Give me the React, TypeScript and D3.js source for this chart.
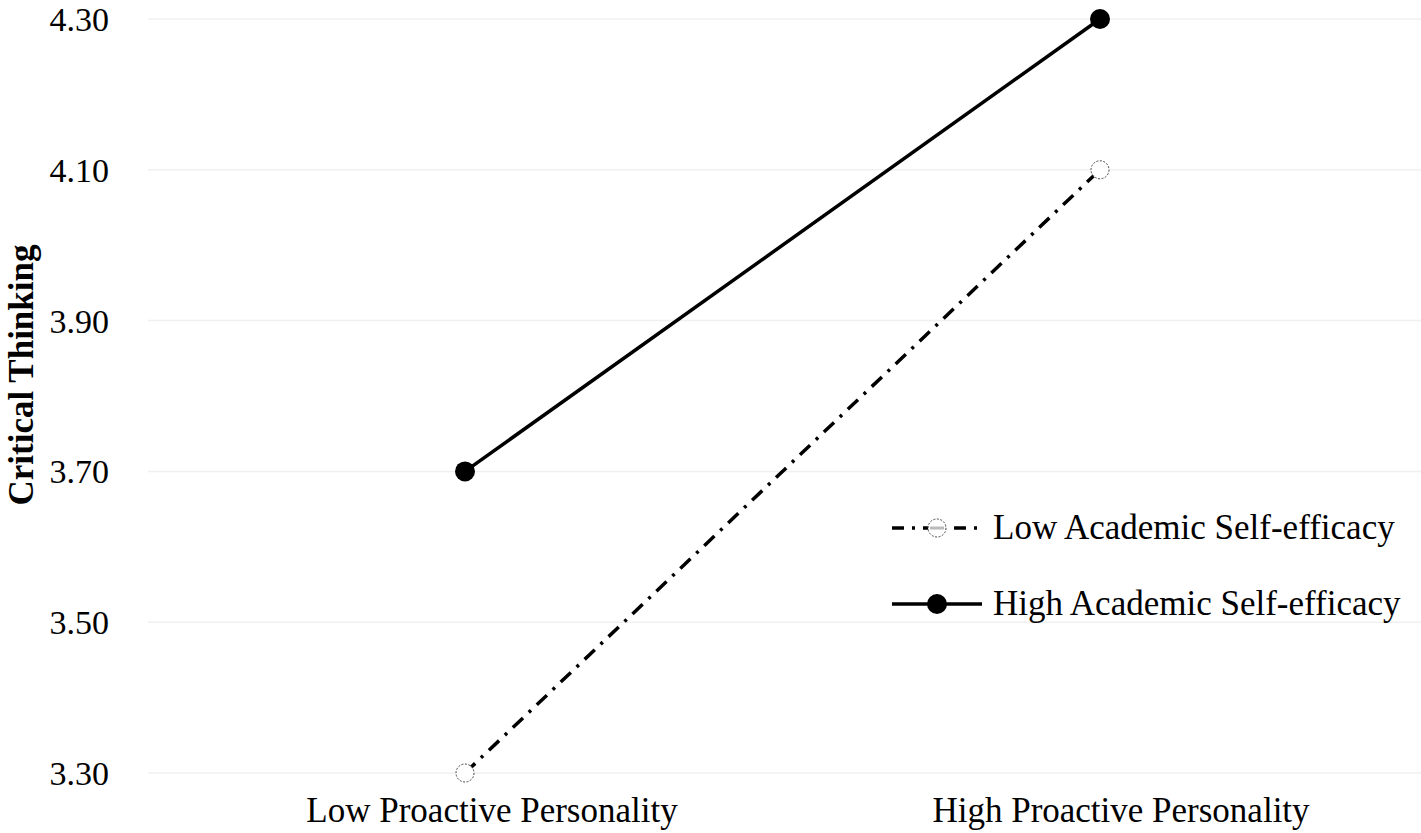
import React, { useEffect, useRef } from 'react';
import * as d3 from 'd3';

const categories = ['Low Proactive Personality', 'High Proactive Personality'];
const seriesNames = ['Low Academic Self-efficacy', 'High Academic Self-efficacy'];
const lowEfficacy = [3.3, 4.1];
const highEfficacy = [3.7, 4.3];
const yTicks = [3.3, 3.5, 3.7, 3.9, 4.1, 4.3];

const W = 1421;
const H = 833;

const App: React.FC = () => {
  const svgRef = useRef<SVGSVGElement>(null);

  useEffect(() => {
    if (!svgRef.current) return;
    const svg = d3.select(svgRef.current);
    svg.selectAll('*').remove();

    const font = '"Liberation Serif", "Times New Roman", serif';
    const y = d3.scaleLinear().domain([3.3, 4.3]).range([773, 19]);
    const x = d3.scalePoint<string>().domain(categories).range([465, 1100]);
    // category labels sit slightly right of the points in the original
    const xLabel = d3.scalePoint<string>().domain(categories).range([492, 1121]);

    // gridlines
    svg.append('g')
      .selectAll('line')
      .data(yTicks)
      .enter()
      .append('line')
      .attr('x1', 148)
      .attr('x2', W)
      .attr('y1', d => y(d))
      .attr('y2', d => y(d))
      .style('stroke', '#f0f0f0')
      .style('stroke-width', 1.5);

    // y tick labels
    svg.append('g')
      .selectAll('text')
      .data(yTicks)
      .enter()
      .append('text')
      .attr('x', 109)
      .attr('y', d => y(d))
      .attr('dy', '0.35em')
      .attr('text-anchor', 'end')
      .style('font-family', font)
      .style('font-size', '34px')
      .text(d => d.toFixed(2));

    // category labels
    svg.append('g')
      .selectAll('text')
      .data(categories)
      .enter()
      .append('text')
      .attr('x', d => xLabel(d) as number)
      .attr('y', 822)
      .attr('text-anchor', 'middle')
      .style('font-family', font)
      .style('font-size', '35px')
      .text(d => d);

    // y title
    svg.append('text')
      .attr('transform', 'translate(33, 375) rotate(-90)')
      .attr('text-anchor', 'middle')
      .style('font-family', font)
      .style('font-size', '35px')
      .style('font-weight', 'bold')
      .text('Critical Thinking');

    const line = d3.line<number>()
      .x((d, i) => x(categories[i]) as number)
      .y(d => y(d));

    // Low series
    svg.append('path')
      .datum(lowEfficacy)
      .attr('d', line)
      .style('fill', 'none')
      .style('stroke', '#000')
      .style('stroke-width', 3.5)
      .style('stroke-dasharray', '14,8,3,8');

    svg.append('g')
      .selectAll('circle')
      .data(lowEfficacy)
      .enter()
      .append('circle')
      .attr('cx', (d, i) => x(categories[i]) as number)
      .attr('cy', d => y(d))
      .attr('r', 9)
      .style('fill', '#fff')
      .style('stroke', '#444')
      .style('stroke-width', 1)
      .style('stroke-dasharray', '2,1.5');

    // High series
    svg.append('path')
      .datum(highEfficacy)
      .attr('d', line)
      .style('fill', 'none')
      .style('stroke', '#000')
      .style('stroke-width', 3.5);

    svg.append('g')
      .selectAll('circle')
      .data(highEfficacy)
      .enter()
      .append('circle')
      .attr('cx', (d, i) => x(categories[i]) as number)
      .attr('cy', d => y(d))
      .attr('r', 10)
      .style('fill', '#000');

    // legend
    const legend = svg.append('g').attr('transform', 'translate(892, 528)');
    seriesNames.forEach((name, i) => {
      const row = legend.append('g').attr('transform', `translate(0, ${i * 76})`);
      row.append('line')
        .attr('x1', 0)
        .attr('x2', 90)
        .attr('y1', 0)
        .attr('y2', 0)
        .style('stroke', '#000')
        .style('stroke-width', 3.5)
        .style('stroke-dasharray', i === 0 ? '12,8,3,8' : null);
      if (i === 0) {
        row.append('circle')
          .attr('cx', 45)
          .attr('cy', 0)
          .attr('r', 9)
          .style('fill', '#fff')
          .style('stroke', '#444')
          .style('stroke-width', 1)
          .style('stroke-dasharray', '2,1.5');
        row.append('line')
          .attr('x1', 38).attr('x2', 52).attr('y1', 0).attr('y2', 0)
          .style('stroke', '#bbb').style('stroke-width', 3);
      } else {
        row.append('circle')
          .attr('cx', 45)
          .attr('cy', 0)
          .attr('r', 10)
          .style('fill', '#000');
      }
      row.append('text')
        .attr('x', 101)
        .attr('y', 0)
        .attr('dy', '0.32em')
        .style('font-family', font)
        .style('font-size', '35px')
        .text(name);
    });
  }, []);

  return (
    <div>
      <svg ref={svgRef} width={W} height={H} style={{ position: 'absolute', left: 0, top: 0, background: '#fff' }} />
    </div>
  );
};

export default App;
